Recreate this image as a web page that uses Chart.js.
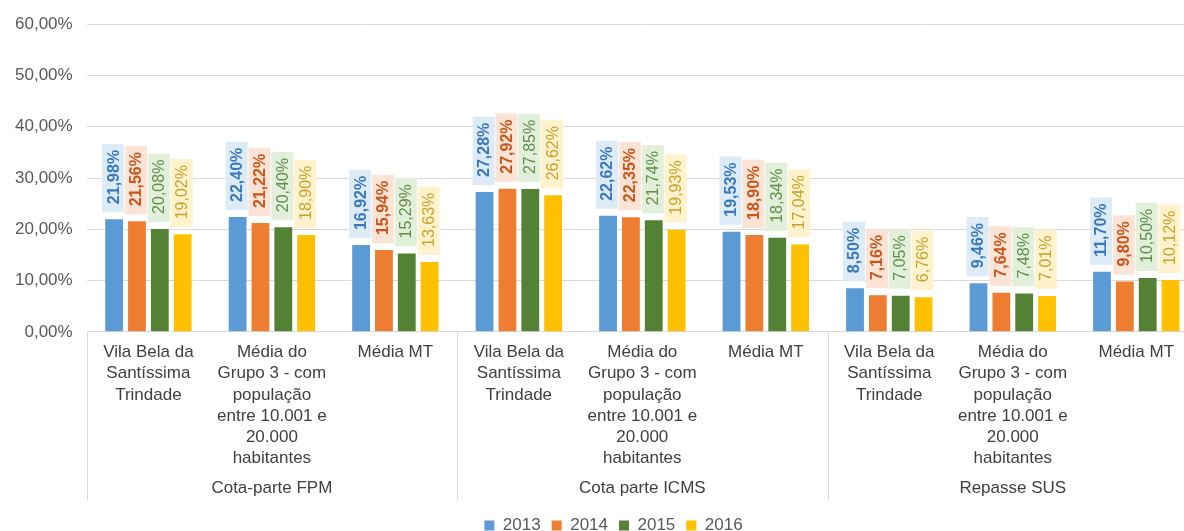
<!DOCTYPE html>
<html>
<head>
<meta charset="utf-8">
<script src="https://cdn.jsdelivr.net/npm/chart.js@4/dist/chart.umd.min.js"></script>
<style>
  html, body { margin: 0; padding: 0; background: #fff; overflow: hidden; }
  canvas { display: block; }
</style>
</head>
<body>
<canvas id="chart" width="1224" height="544"></canvas>
<script>
// categorias (3 grupos x 3 subcategorias)
const groups = ['Cota-parte FPM', 'Cota parte ICMS', 'Repasse SUS'];
const subLabels = [
  ['Vila Bela da', 'Santíssima', 'Trindade'],
  ['Média do', 'Grupo 3 - com', 'população', 'entre 10.001 e', '20.000', 'habitantes'],
  ['Média MT']
];
const categories = [...subLabels, ...subLabels, ...subLabels];

// valores (%) por ano
const years = ['2013', '2014', '2015', '2016'];
const values2013 = [21.98, 22.40, 16.92, 27.28, 22.62, 19.53, 8.50, 9.46, 11.70];
const values2014 = [21.56, 21.22, 15.94, 27.92, 22.35, 18.90, 7.16, 7.64, 9.80];
const values2015 = [20.08, 20.40, 15.29, 27.85, 21.74, 18.34, 7.05, 7.48, 10.50];
const values2016 = [19.02, 18.90, 13.63, 26.62, 19.93, 17.04, 6.76, 7.01, 10.12];

// eixo y
const yTicks = [0, 10, 20, 30, 40, 50, 60];

const barColors = ['#5B9BD5', '#ED7D31', '#548235', '#FFC000'];
const labelColors = ['#3A78BE', '#C9551A', '#5E8F47', '#C9A22B'];
const labelBoxes = ['#DDEBF7', '#FBE3D6', '#E2EFDA', '#FFF2CC'];
const labelBold = [true, true, false, false];

const fmt = v => v.toFixed(2).replace('.', ',') + '%';

// rótulos verticais com caixa colorida acima de cada barra
const barLabels = {
  id: 'barLabels',
  afterDatasetsDraw(chart) {
    const ctx = chart.ctx;
    chart.data.datasets.forEach((ds, i) => {
      const meta = chart.getDatasetMeta(i);
      ctx.save();
      ctx.font = (labelBold[i] ? 'bold ' : '') + '16px "Liberation Sans", Arial, sans-serif';
      meta.data.forEach((bar, j) => {
        const txt = fmt(ds.data[j]);
        const tw = ctx.measureText(txt).width;
        const boxH = tw + 14;
        const boxW = 22;
        const bottom = bar.y - 7;
        const cx = bar.x - 1;
        ctx.fillStyle = labelBoxes[i];
        ctx.fillRect(cx - boxW / 2, bottom - boxH, boxW, boxH);
        ctx.save();
        ctx.translate(cx + 1, bottom - boxH / 2 - 1);
        ctx.rotate(-Math.PI / 2);
        ctx.fillStyle = labelColors[i];
        ctx.textAlign = 'center';
        ctx.textBaseline = 'middle';
        ctx.fillText(txt, 0, 0);
        ctx.restore();
      });
      ctx.restore();
    });
  }
};

// linhas separadoras dos grupos no eixo x
const groupLines = {
  id: 'groupLines',
  afterDraw(chart) {
    const x = chart.scales.x;
    const x2 = chart.scales.x2;
    const ctx = chart.ctx;
    ctx.save();
    ctx.strokeStyle = '#D9D9D9';
    ctx.lineWidth = 1;
    for (let g = 0; g <= groups.length; g++) {
      const idx = g * 3;
      let px;
      if (idx === 0) px = x.left;
      else if (idx >= categories.length) px = x.right;
      else px = (x.getPixelForTick(idx - 1) + x.getPixelForTick(idx)) / 2;
      px = Math.round(px) + 0.5;
      ctx.beginPath();
      ctx.moveTo(px, x.top);
      ctx.lineTo(px, x2.bottom - 6);
      ctx.stroke();
    }
    ctx.restore();
  }
};

// legenda centrada um pouco à direita, como no original
const legendShift = {
  id: 'legendShift',
  afterLayout(chart) {
    if (chart.legend) {
      chart.legend.left += 14;
      chart.legend.right += 14;
    }
  }
};

const yearValues = [values2013, values2014, values2015, values2016];

new Chart(document.getElementById('chart'), {
  type: 'bar',
  data: {
    labels: categories,
    datasets: years.map((y, i) => ({
      label: y,
      data: yearValues[i],
      backgroundColor: barColors[i],
      categoryPercentage: 0.74,
      barPercentage: 0.78
    }))
  },
  options: {
    responsive: false,
    animation: false,
    layout: { padding: { left: 1, right: 26, top: 23, bottom: 0 } },
    plugins: {
      legend: {
        position: 'bottom',
        labels: {
          boxWidth: 10,
          boxHeight: 10,
          padding: 11,
          color: '#595959',
          font: { family: '"Liberation Sans", Arial, sans-serif', size: 17 }
        }
      },
      tooltip: { enabled: false }
    },
    scales: {
      y: {
        min: 0,
        max: 60,
        afterBuildTicks: s => { s.ticks = yTicks.map(v => ({ value: v })); },
        ticks: {
          padding: 14,
          color: '#595959',
          font: { family: '"Liberation Sans", Arial, sans-serif', size: 17 },
          callback: v => fmt(v)
        },
        grid: { color: '#D9D9D9', drawTicks: false },
        border: { display: false }
      },
      x: {
        offset: true,
        grid: { display: false },
        border: { display: false },
        ticks: {
          autoSkip: false,
          maxRotation: 0,
          padding: 2,
          color: '#404040',
          font: { family: '"Liberation Sans", Arial, sans-serif', size: 17, lineHeight: 1.25 }
        }
      },
      x2: {
        type: 'category',
        position: 'bottom',
        labels: groups.map(g => [g, '']),
        offset: true,
        grid: { display: false },
        border: { display: false },
        ticks: {
          autoSkip: false,
          maxRotation: 0,
          padding: 5,
          color: '#404040',
          font: { family: '"Liberation Sans", Arial, sans-serif', size: 17, lineHeight: 0.49 }
        }
      }
    }
  },
  plugins: [barLabels, groupLines, legendShift]
});
</script>
</body>
</html>
